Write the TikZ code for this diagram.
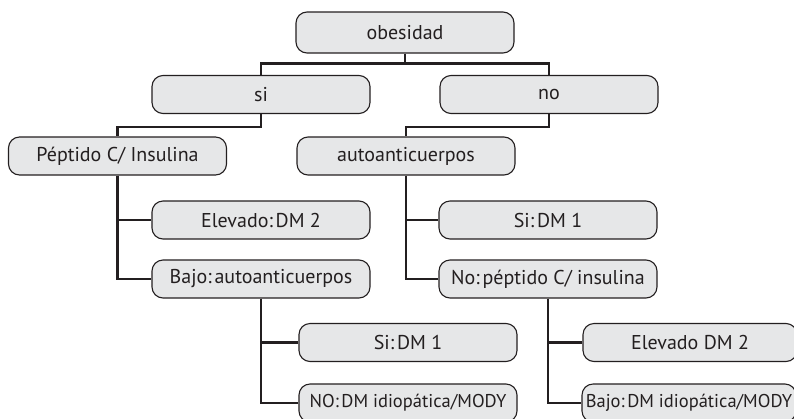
\documentclass[tikz,border=0pt]{standalone}
\usepackage{fontspec}
\setmainfont{PT Sans}
\usepackage{tikz}
\definecolor{linea}{HTML}{231F20}
\definecolor{relleno}{HTML}{E6E7E8}
\newcommand{\dos}{:\hspace{0.14em}} % tight colon as in the original
\tikzset{ %styles for the decision tree
  caja/.style={draw=linea,line width=1.1pt,fill=relleno,rounded corners=11pt,
    minimum width=218pt,minimum height=38pt,inner sep=0pt,
    font=\fontsize{20}{23}\selectfont,text=linea},
  larga/.style={caja,font=\fontsize{18.5}{22}\selectfont}, % long labels
  rama/.style={draw=linea,line width=2.6pt}
}

\begin{document}
\begin{tikzpicture}[x=1pt,y=-1pt] % one unit is one pixel of the original
\useasboundingbox (0,0) rectangle (794,418);

\node [caja,minimum height=41pt] (obesidad) at (405,32.5) {obesidad};
\node [caja] (si) at (261,94.5) {si};
\node [caja] (no) at (549,94.5) {no};
\node [caja] (peptido) at (117.5,156) {Péptido C/ Insulina};
\node [caja] (auto) at (406,156) {autoanticuerpos};
\node [caja] (elevado) at (261,220) {Elevado\dos DM 2};
\node [caja] (bajo) at (261,279) {Bajo\dos autoanticuerpos};
\node [caja] (siauto) at (548,220) {Si\dos DM 1};
\node [caja] (nopep) at (548,279) {No\dos péptido C/ insulina};
\node [caja] (sibajo) at (408,342.5) {Si\dos DM 1};
\node [larga] (nobajo) at (408,403) {NO\dos DM idiopática/MODY};
\node [caja,minimum width=214pt] (elevnp) at (690,342.5) {Elevado DM 2};
\node [larga,minimum width=214pt] (bajonp) at (689,403) {Bajo\dos DM idiopática/MODY};

% branches
\draw [rama] (obesidad.south) -- ++(0,10) -| (si.north);
\draw [rama] (obesidad.south) -- ++(0,10) -| (no.north);
\draw [rama] (si.south) -- ++(0,13) -| (peptido.north);
\draw [rama] (no.south) -- ++(0,13) -| (auto.north);
\draw [rama] (peptido.south) |- (elevado.west);
\draw [rama] (peptido.south) |- (bajo.west);
\draw [rama] (auto.south) |- (siauto.west);
\draw [rama] (auto.south) |- (nopep.west);
\draw [rama] (bajo.south) |- (sibajo.west);
\draw [rama] (bajo.south) |- (nobajo.west);
\draw [rama] (nopep.south) |- (elevnp.west);
\draw [rama] (nopep.south) |- (bajonp.west);

\end{tikzpicture}
\end{document}
